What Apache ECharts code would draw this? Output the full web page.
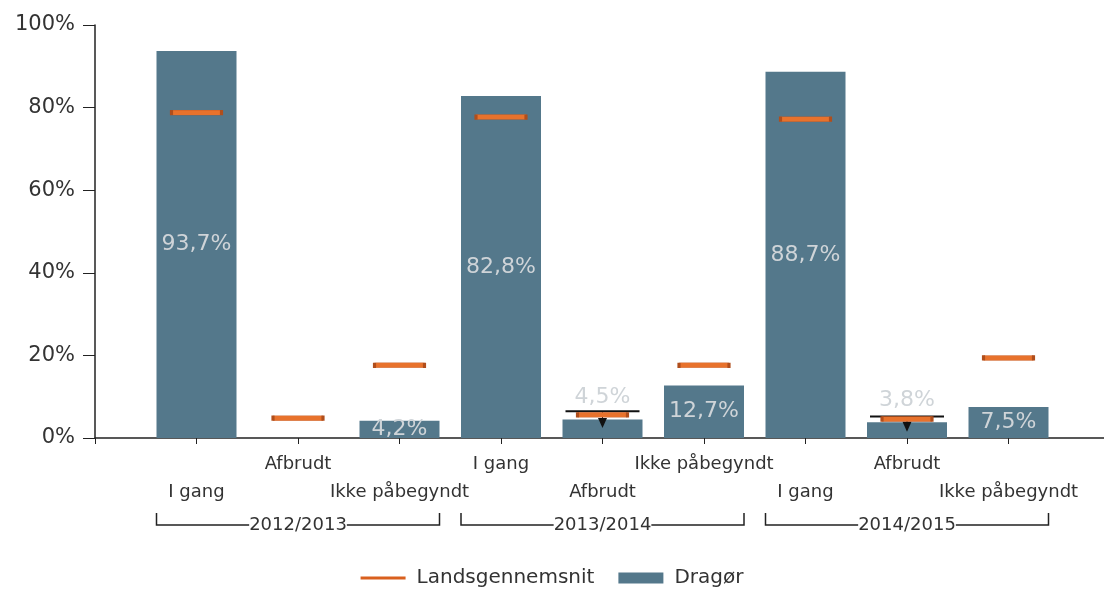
<!DOCTYPE html>
<html>
<head>
<meta charset="utf-8">
<script src="https://cdn.jsdelivr.net/npm/echarts@6/dist/echarts.min.js"></script>
<style>html,body{margin:0;padding:0;background:#fff;}#c{width:1104px;height:591px;}</style>
</head>
<body>
<div id="c"></div>
<script>
const categories = ['I gang','Afbrudt','Ikke påbegyndt','I gang','Afbrudt','Ikke påbegyndt','I gang','Afbrudt','Ikke påbegyndt'];
const years = ['2012/2013','2013/2014','2014/2015'];
const dragor = [93.7, null, 4.2, 82.8, 4.5, 12.7, 88.7, 3.8, 7.5];
const lands = [78.8, 4.8, 17.6, 77.7, 5.6, 17.6, 77.2, 4.6, 19.4];
const markerTop = [null, null, null, null, 6.5, null, null, 5.2, null];
const markerTip = [null, null, null, null, 2.4, null, null, 1.5, null];
const yTicks = [0, 20, 40, 60, 80, 100];

const FONT = 'DejaVu Sans';
const chart = echarts.init(document.getElementById('c'), null, {renderer: 'canvas'});
const fmt = v => v.toFixed(1).replace('.', ',') + '%';

const barData = dragor.map((v, i) => v == null ? null : ({
  value: [i + 1, v],
  label: {position: markerTop[i] != null ? 'top' : 'inside', distance: 11}
})).filter(d => d);
const landsData = lands.map((v, i) => [i + 1, v]);
const markerData = markerTop.map((t, i) => t == null ? null : [i + 1, t, markerTip[i]]).filter(d => d);

chart.setOption({
  animation: false,
  textStyle: {fontFamily: FONT},
  grid: {left: 95, width: 1015, top: 25, bottom: 153, containLabel: false, outerBoundsMode: 'none'},
  legend: {
    bottom: 3, left: 'center', padding: 0, itemWidth: 45, itemHeight: 11, itemGap: 24,
    textStyle: {fontFamily: FONT, fontSize: 20, color: '#333', padding: [0, 0, 0, 6]},
    data: [
      {name: 'Landsgennemsnit', icon: 'path://M0,0 L0,0 M0,11 L0,11 M0,4 L45,4 L45,7 L0,7 Z', itemStyle: {color: '#d9601e', borderWidth: 0}},
      {name: 'Dragør', icon: 'rect', itemStyle: {color: '#54788b'}}
    ]
  },
  xAxis: {
    type: 'value', min: 0, max: 10, interval: 1,
    splitLine: {show: false},
    axisLine: {show: true, lineStyle: {color: '#222', width: 1.5}},
    axisTick: {show: true, length: 6, lineStyle: {color: '#222'}},
    axisLabel: {
      margin: 12, fontSize: 18, lineHeight: 28, color: '#333', fontFamily: FONT,
      formatter: v => {
        const i = Math.round(v) - 1;
        if (Math.abs(v - Math.round(v)) > 1e-6 || i < 0 || i >= categories.length) return '';
        return i % 2 === 0 ? '\n' + categories[i] : categories[i] + '\n';
      }
    }
  },
  yAxis: {
    type: 'value', min: 0, max: 100, interval: 20,
    splitLine: {show: false},
    axisLine: {show: true, lineStyle: {color: '#222', width: 1.5}},
    axisTick: {show: true, length: 12, lineStyle: {color: '#222'}},
    axisLabel: {margin: 20, fontSize: 21, color: '#333', fontFamily: FONT, formatter: v => yTicks.includes(v) ? v + '%' : ''}
  },
  series: [
    {
      name: 'Dragør', type: 'bar', barWidth: 80, z: 2,
      itemStyle: {color: '#54788b'},
      label: {show: true, color: '#cfd4d8', fontSize: 22, fontFamily: FONT, formatter: p => fmt(p.value[1])},
      data: barData
    },
    {
      name: 'marker', type: 'custom', z: 3, silent: true,
      renderItem: (params, api) => {
        const p1 = api.coord([api.value(0), api.value(1)]);
        const p2 = api.coord([api.value(0), api.value(2)]);
        const cx = p1[0];
        return {
          type: 'group',
          children: [
            {type: 'line', shape: {x1: cx - 37, y1: p1[1], x2: cx + 37, y2: p1[1]}, style: {stroke: '#111', lineWidth: 2}},
            {type: 'line', shape: {x1: cx, y1: p1[1], x2: cx, y2: p2[1] - 9}, style: {stroke: '#111', lineWidth: 1}},
            {type: 'polygon', shape: {points: [[cx - 4.5, p2[1] - 10], [cx + 4.5, p2[1] - 10], [cx, p2[1]]]}, style: {fill: '#111'}}
          ]
        };
      },
      data: markerData
    },
    {
      name: 'Landsgennemsnit', type: 'scatter', z: 4,
      symbol: 'rect', symbolSize: [50, 5],
      itemStyle: {color: '#e8722c', borderColor: '#b04e1c', borderWidth: 1, opacity: 1},
      data: landsData
    }
  ]
});

// group brackets
const g = [];
const yTop = 513, yLine = 525;
years.forEach((yr, k) => {
  const xl = chart.convertToPixel({xAxisIndex: 0}, k * 3 + 1) - 40;
  const xr = chart.convertToPixel({xAxisIndex: 0}, k * 3 + 3) + 40;
  const xc = chart.convertToPixel({xAxisIndex: 0}, k * 3 + 2);
  g.push({type: 'polyline', silent: true, shape: {points: [[xl, yTop], [xl, yLine], [xr, yLine], [xr, yTop]]}, style: {stroke: '#222', lineWidth: 1.5, fill: null}});
  g.push({type: 'text', silent: true, x: xc, y: yLine, style: {text: yr, fontFamily: FONT, fontSize: 18, fill: '#333', align: 'center', verticalAlign: 'middle', backgroundColor: '#fff', padding: [0, 0]}});
});
chart.setOption({graphic: g});
</script>
</body>
</html>
